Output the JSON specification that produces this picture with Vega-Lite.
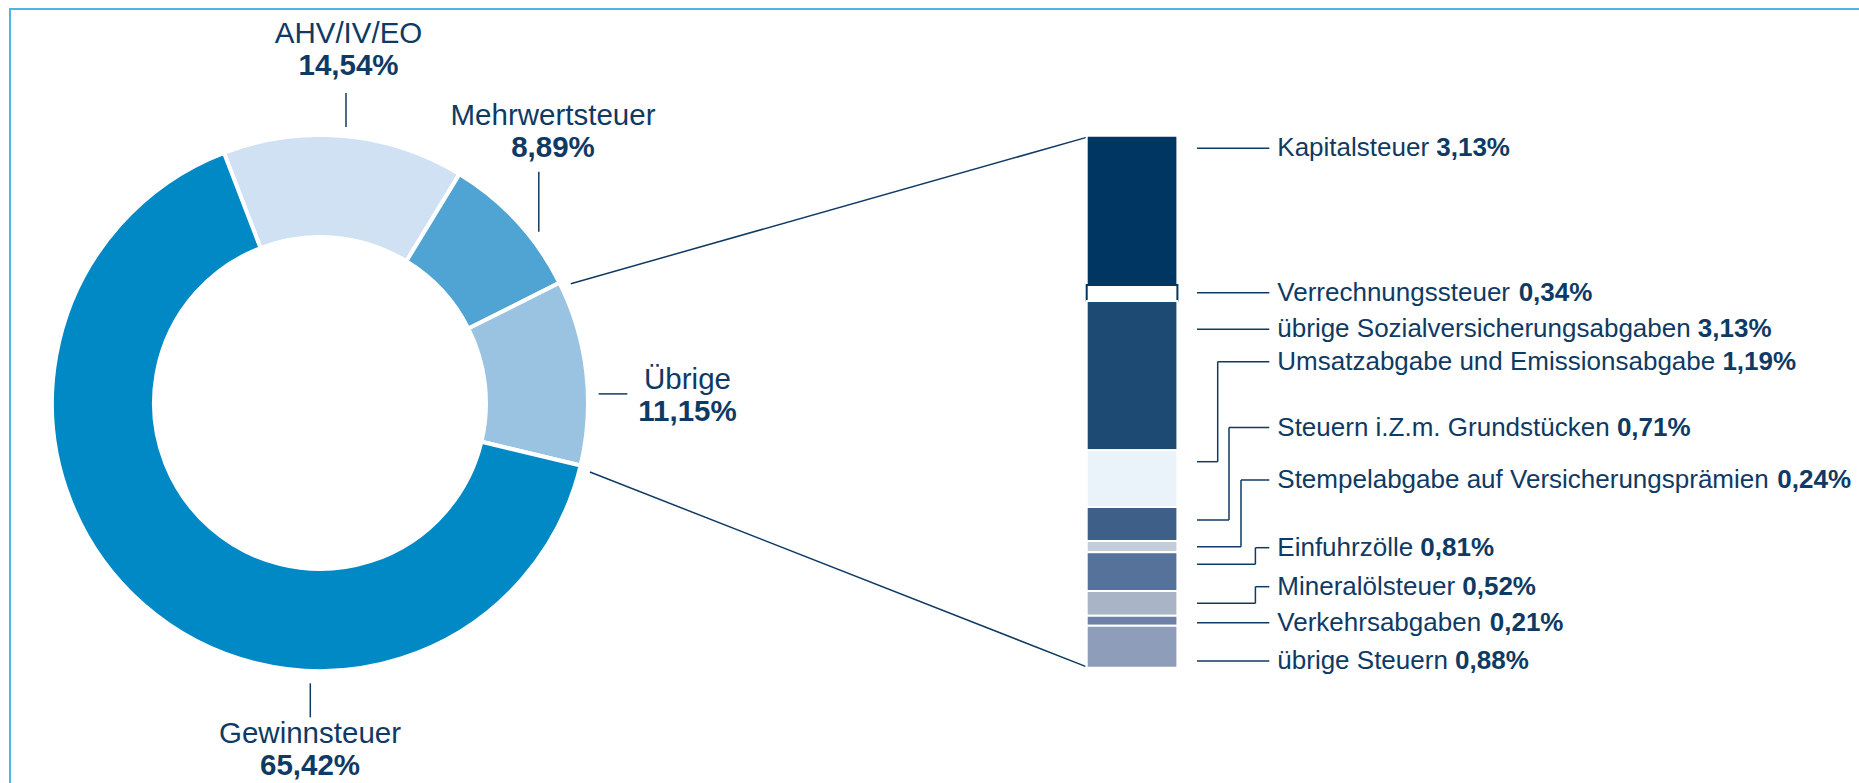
{
  "$schema": "https://vega.github.io/schema/vega-lite/v6.json",
  "width": 1859,
  "height": 784,
  "autosize": {"type": "none"},
  "padding": {"left": 10, "top": 9, "right": -10, "bottom": -10},
  "background": "white",
  "config": {
    "view": {"stroke": "#50B4E6", "strokeWidth": 2},
    "font": "Liberation Sans"
  },
  "datasets": {
    "donut": [
      {"name": "AHV/IV/EO", "share": 14.54},
      {"name": "Mehrwertsteuer", "share": 8.89},
      {"name": "Übrige", "share": 11.15},
      {"name": "Gewinnsteuer", "share": 65.42}
    ],
    "breakdown": [
      {"name": "Kapitalsteuer", "share": 3.13},
      {"name": "Verrechnungssteuer", "share": 0.34},
      {"name": "übrige Sozialversicherungsabgaben", "share": 3.13},
      {"name": "Umsatzabgabe und Emissionsabgabe", "share": 1.19},
      {"name": "Steuern i.Z.m. Grundstücken", "share": 0.71},
      {"name": "Stempelabgabe auf Versicherungsprämien", "share": 0.24},
      {"name": "Einfuhrzölle", "share": 0.81},
      {"name": "Mineralölsteuer", "share": 0.52},
      {"name": "Verkehrsabgaben", "share": 0.21},
      {"name": "übrige Steuern", "share": 0.88}
    ]
  },
  "resolve": {"scale": {"x": "independent", "y": "independent", "color": "independent"}},
  "layer": [
    {
      "data": {"name": "breakdown"},
      "transform": [
        {"stack": "share", "groupby": [], "as": ["s0", "s1"]},
        {"filter": {"field": "name", "oneOf": ["Kapitalsteuer", "übrige Steuern"]}}
      ],
      "mark": {"type": "rule", "color": "#0f3a63", "strokeWidth": 1.5},
      "encoding": {
        "x": {"field": "share", "type": "quantitative", "axis": null, "scale": {"domain": [0, 0.88, 3.13, 10.28], "range": [1077.4, 579.9, 560.8, 1075.5], "zero": false, "nice": false}},
        "x2": {"field": "s0"},
        "y": {"field": "share", "type": "quantitative", "axis": null, "scale": {"domain": [0, 0.88, 3.13, 10.28], "range": [128.1, 463, 274.7, 657.4], "zero": false, "nice": false}},
        "y2": {"field": "s0"}
      }
    },
    {
      "data": {"name": "donut"},
      "transform": [{"stack": "share", "groupby": [], "as": ["s0", "s1"]}],
      "mark": {"type": "arc", "x": 310, "y": 394, "outerRadius": 268, "innerRadius": 166, "stroke": "white", "strokeWidth": 4},
      "encoding": {
        "theta": {"field": "s0", "type": "quantitative", "scale": {"domain": [0, 100], "range": [-0.36652, 5.91667]}},
        "theta2": {"field": "s1"},
        "color": {"field": "name", "type": "nominal", "legend": null, "scale": {"domain": ["AHV/IV/EO", "Mehrwertsteuer", "Übrige", "Gewinnsteuer"], "range": ["#CFE1F2", "#4FA4D3", "#9AC3E1", "#0089C4"]}}
      }
    },
    {
      "data": {"name": "donut"},
      "transform": [{"filter": {"field": "name", "oneOf": ["AHV/IV/EO", "Gewinnsteuer"]}}],
      "mark": {"type": "tick", "orient": "vertical", "thickness": 1.5, "size": 34, "color": "#0f3a63", "opacity": 1},
      "encoding": {
        "x": {"field": "share", "type": "quantitative", "axis": null, "scale": {"domain": [14.54, 65.42], "range": [336, 300.3], "zero": false, "nice": false}},
        "y": {"field": "share", "type": "quantitative", "axis": null, "scale": {"domain": [14.54, 65.42], "range": [101, 691.3], "zero": false, "nice": false}}
      }
    },
    {
      "data": {"name": "donut"},
      "transform": [{"filter": {"field": "name", "oneOf": ["Mehrwertsteuer"]}}],
      "mark": {"type": "tick", "orient": "vertical", "thickness": 1.5, "size": 60, "color": "#0f3a63", "opacity": 1},
      "encoding": {
        "x": {"field": "share", "type": "quantitative", "axis": null, "scale": {"domain": [0, 8.89], "range": [0, 528.8], "zero": false, "nice": false}},
        "y": {"field": "share", "type": "quantitative", "axis": null, "scale": {"domain": [0, 8.89], "range": [0, 192.7], "zero": false, "nice": false}}
      }
    },
    {
      "data": {"name": "donut"},
      "transform": [{"filter": {"field": "name", "oneOf": ["Übrige"]}}],
      "mark": {"type": "tick", "orient": "horizontal", "thickness": 1.5, "size": 28.7, "color": "#0f3a63", "opacity": 1},
      "encoding": {
        "x": {"field": "share", "type": "quantitative", "axis": null, "scale": {"domain": [0, 11.15], "range": [0, 603], "zero": false, "nice": false}},
        "y": {"field": "share", "type": "quantitative", "axis": null, "scale": {"domain": [0, 11.15], "range": [0, 384.9], "zero": false, "nice": false}}
      }
    },
    {
      "data": {"name": "donut"},
      "mark": {"type": "text", "align": "center", "baseline": "alphabetic", "fontSize": 29.5, "font": "Liberation Sans", "color": "#0f3a63"},
      "encoding": {
        "x": {"field": "share", "type": "quantitative", "axis": null, "scale": {"domain": [8.89, 11.15, 14.54, 65.42], "range": [543, 677.5, 338.5, 300], "zero": false, "nice": false}},
        "y": {"field": "share", "type": "quantitative", "axis": null, "scale": {"domain": [8.89, 11.15, 14.54, 65.42], "range": [116, 380, 34, 734], "zero": false, "nice": false}},
        "text": {"field": "name"}
      }
    },
    {
      "data": {"name": "donut"},
      "mark": {"type": "text", "align": "center", "baseline": "alphabetic", "dy": 32, "fontSize": 29.5, "fontWeight": "bold", "font": "Liberation Sans", "color": "#0f3a63", "text": {"expr": "replace(format(datum.share, '.2f'), '.', ',') + '%'"}},
      "encoding": {
        "x": {"field": "share", "type": "quantitative", "axis": null, "scale": {"domain": [8.89, 11.15, 14.54, 65.42], "range": [543, 677.5, 338.5, 300], "zero": false, "nice": false}},
        "y": {"field": "share", "type": "quantitative", "axis": null, "scale": {"domain": [8.89, 11.15, 14.54, 65.42], "range": [116, 380, 34, 734], "zero": false, "nice": false}}
      }
    },
    {
      "data": {"name": "breakdown"},
      "transform": [{"stack": "share", "groupby": [], "as": ["s0", "s1"]}],
      "mark": {"type": "bar", "width": 90.7, "strokeWidth": 2},
      "encoding": {
        "x": {"field": "share", "type": "quantitative", "axis": null, "scale": {"domain": [0, 4], "range": [1122.05, 1122.05], "zero": false, "nice": false}},
        "y": {"field": "s0", "type": "quantitative", "axis": null, "scale": {"domain": [0, 11.16], "range": [126.7, 658.7], "zero": false, "nice": false}},
        "y2": {"field": "s1"},
        "color": {"field": "name", "type": "nominal", "legend": null, "scale": {"domain": ["Kapitalsteuer", "Verrechnungssteuer", "übrige Sozialversicherungsabgaben", "Umsatzabgabe und Emissionsabgabe", "Steuern i.Z.m. Grundstücken", "Stempelabgabe auf Versicherungsprämien", "Einfuhrzölle", "Mineralölsteuer", "Verkehrsabgaben", "übrige Steuern"], "range": ["#003662", "#ffffff", "#1d4a73", "#eaf2fa", "#3e6088", "#c2ccdb", "#56729a", "#a9b4c6", "#6e80a6", "#8e9eba"]}},
        "stroke": {"condition": {"test": "datum.name === 'Verrechnungssteuer'", "value": "#003662"}, "value": "white"}
      }
    },
    {
      "data": {"name": "breakdown"},
      "transform": [
        {"stack": "share", "groupby": [], "as": ["s0", "s1"]},
        {"filter": {"field": "name", "oneOf": ["Kapitalsteuer", "Verrechnungssteuer", "übrige Sozialversicherungsabgaben", "Verkehrsabgaben", "übrige Steuern"]}}
      ],
      "mark": {"type": "tick", "orient": "horizontal", "thickness": 1.5, "size": 72.3, "color": "#0f3a63", "opacity": 1},
      "encoding": {
        "x": {"field": "share", "type": "quantitative", "axis": null, "scale": {"domain": [0, 4], "range": [1223.15, 1223.15], "zero": false, "nice": false}},
        "y": {"field": "s1", "type": "quantitative", "axis": null, "scale": {"domain": [0.24, 0.52, 0.71, 0.81, 1.19, 3.13, 3.47, 6.6, 7.79, 8.5, 8.74, 9.55, 10.07, 10.28, 11.16], "range": [537.7, 594.3, 511, 555.3, 452.7, 139.3, 283.7, 320.3, 352.7, 418.5, 471, 538.7, 577.7, 613.7, 652], "zero": false, "nice": false}}
      }
    },
    {
      "data": {"name": "breakdown"},
      "transform": [
        {"stack": "share", "groupby": [], "as": ["s0", "s1"]},
        {"filter": {"field": "name", "oneOf": ["Umsatzabgabe und Emissionsabgabe", "Steuern i.Z.m. Grundstücken", "Stempelabgabe auf Versicherungsprämien", "Einfuhrzölle", "Mineralölsteuer"]}}
      ],
      "mark": {"type": "rule", "color": "#0f3a63", "strokeWidth": 1.5},
      "encoding": {
        "x": {"field": "s1", "type": "quantitative", "axis": null, "scale": {"domain": [0.2, 1.2, 7.79, 8.5, 8.74, 9.55, 10.07], "range": [1259.3, 1259.3, 1207.7, 1219, 1231, 1245.4, 1245.4], "zero": false, "nice": false}},
        "x2": {"field": "share"},
        "y": {"field": "s1", "type": "quantitative", "axis": null, "scale": {"domain": [0.24, 0.52, 0.71, 0.81, 1.19, 3.13, 3.47, 6.6, 7.79, 8.5, 8.74, 9.55, 10.07, 10.28, 11.16], "range": [537.7, 594.3, 511, 555.3, 452.7, 139.3, 283.7, 320.3, 352.7, 418.5, 471, 538.7, 577.7, 613.7, 652], "zero": false, "nice": false}}
      }
    },
    {
      "data": {"name": "breakdown"},
      "transform": [
        {"stack": "share", "groupby": [], "as": ["s0", "s1"]},
        {"filter": {"field": "name", "oneOf": ["Umsatzabgabe und Emissionsabgabe", "Steuern i.Z.m. Grundstücken", "Stempelabgabe auf Versicherungsprämien", "Einfuhrzölle", "Mineralölsteuer"]}}
      ],
      "mark": {"type": "rule", "color": "#0f3a63", "strokeWidth": 1.5},
      "encoding": {
        "x": {"field": "s1", "type": "quantitative", "axis": null, "scale": {"domain": [0.2, 1.2, 7.79, 8.5, 8.74, 9.55, 10.07], "range": [1259.3, 1259.3, 1207.7, 1219, 1231, 1245.4, 1245.4], "zero": false, "nice": false}},
        "y": {"field": "s1", "type": "quantitative", "axis": null, "scale": {"domain": [0.24, 0.52, 0.71, 0.81, 1.19, 3.13, 3.47, 6.6, 7.79, 8.5, 8.74, 9.55, 10.07, 10.28, 11.16], "range": [537.7, 594.3, 511, 555.3, 452.7, 139.3, 283.7, 320.3, 352.7, 418.5, 471, 538.7, 577.7, 613.7, 652], "zero": false, "nice": false}},
        "y2": {"field": "share"}
      }
    },
    {
      "data": {"name": "breakdown"},
      "transform": [
        {"stack": "share", "groupby": [], "as": ["s0", "s1"]},
        {"filter": {"field": "name", "oneOf": ["Umsatzabgabe und Emissionsabgabe", "Steuern i.Z.m. Grundstücken", "Stempelabgabe auf Versicherungsprämien", "Einfuhrzölle", "Mineralölsteuer"]}}
      ],
      "mark": {"type": "rule", "color": "#0f3a63", "strokeWidth": 1.5},
      "encoding": {
        "x": {"field": "share", "type": "quantitative", "axis": null, "scale": {"domain": [0.2, 1.2, 7.79, 8.5, 8.74, 9.55, 10.07], "range": [1187, 1187, 1207.7, 1219, 1231, 1245.4, 1245.4], "zero": false, "nice": false}},
        "x2": {"field": "s1"},
        "y": {"field": "share", "type": "quantitative", "axis": null, "scale": {"domain": [0.24, 0.52, 0.71, 0.81, 1.19, 3.13, 3.47, 6.6, 7.79, 8.5, 8.74, 9.55, 10.07, 10.28, 11.16], "range": [537.7, 594.3, 511, 555.3, 452.7, 139.3, 283.7, 320.3, 352.7, 418.5, 471, 538.7, 577.7, 613.7, 652], "zero": false, "nice": false}}
      }
    },
    {
      "data": {"name": "breakdown"},
      "transform": [{"stack": "share", "groupby": [], "as": ["s0", "s1"]}],
      "mark": {"type": "text", "align": "left", "baseline": "alphabetic", "dx": 8, "dy": 8, "fontSize": 26, "font": "Liberation Sans", "color": "#0f3a63"},
      "encoding": {
        "x": {"field": "share", "type": "quantitative", "axis": null, "scale": {"domain": [0, 4], "range": [1259.3, 1259.3], "zero": false, "nice": false}},
        "y": {"field": "s1", "type": "quantitative", "axis": null, "scale": {"domain": [0.24, 0.52, 0.71, 0.81, 1.19, 3.13, 3.47, 6.6, 7.79, 8.5, 8.74, 9.55, 10.07, 10.28, 11.16], "range": [537.7, 594.3, 511, 555.3, 452.7, 139.3, 283.7, 320.3, 352.7, 418.5, 471, 538.7, 577.7, 613.7, 652], "zero": false, "nice": false}},
        "text": {"field": "name"}
      }
    },
    {
      "data": {"name": "breakdown"},
      "transform": [{"stack": "share", "groupby": [], "as": ["s0", "s1"]}],
      "mark": {
        "type": "text", "align": "left", "baseline": "alphabetic", "dy": 8, "fontSize": 26, "fontWeight": "bold", "font": "Liberation Sans", "color": "#0f3a63",
        "text": {"expr": "replace(format(datum.share, '.2f'), '.', ',') + '%'"},
        "dx": {"expr": "8 + 26 * (0.556*length(datum.name) - 0.334*length(replace(datum.name, regexp('[^ijl]','g'), '')) - 0.278*length(replace(datum.name, regexp('[^ft .,I/]','g'), '')) - 0.223*length(replace(datum.name, regexp('[^r]','g'), '')) - 0.056*length(replace(datum.name, regexp('[^cksvxyzJ]','g'), '')) + 0.055*length(replace(datum.name, regexp('[^TZF]','g'), '')) + 0.111*length(replace(datum.name, regexp('[^ABEKPSVXY]','g'), '')) + 0.166*length(replace(datum.name, regexp('[^CDHNRUwÜ]','g'), '')) + 0.222*length(replace(datum.name, regexp('[^GOQ]','g'), '')) + 0.277*length(replace(datum.name, regexp('[^mM]','g'), '')) + 0.278)"}
      },
      "encoding": {
        "x": {"field": "share", "type": "quantitative", "axis": null, "scale": {"domain": [0, 4], "range": [1259.3, 1259.3], "zero": false, "nice": false}},
        "y": {"field": "s1", "type": "quantitative", "axis": null, "scale": {"domain": [0.24, 0.52, 0.71, 0.81, 1.19, 3.13, 3.47, 6.6, 7.79, 8.5, 8.74, 9.55, 10.07, 10.28, 11.16], "range": [537.7, 594.3, 511, 555.3, 452.7, 139.3, 283.7, 320.3, 352.7, 418.5, 471, 538.7, 577.7, 613.7, 652], "zero": false, "nice": false}}
      }
    }
  ]
}
